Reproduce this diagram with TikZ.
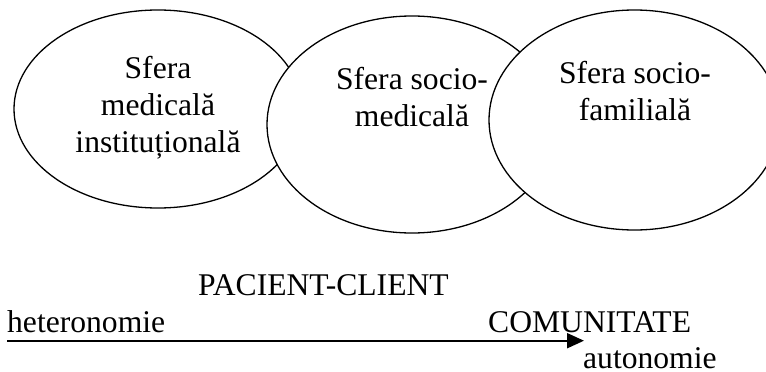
\documentclass[tikz,border=0pt]{standalone}
\usepackage{fontspec}
\setmainfont{Liberation Serif}
\usetikzlibrary{shapes.geometric,arrows.meta}
\begin{document}
\begin{tikzpicture}[x=1pt,y=-1pt,
  sphere/.style={draw=black,fill=white,ellipse,line width=1.3pt,inner sep=0pt},
  lbl/.style={inner sep=0pt,align=center,font=\fontsize{31.6}{37}\selectfont},
  txt/.style={inner sep=0pt,font=\fontsize{31.6}{37}\selectfont}]
\useasboundingbox (0,0) rectangle (766,372);
% ellipses
\node[sphere,minimum width=288pt,minimum height=198pt] (e1) at (158,109) {};
\node[sphere,minimum width=290pt,minimum height=217pt] (e2) at (412,124.5) {};
\node[sphere,minimum width=291pt,minimum height=220pt] (e3) at (634.5,120) {};
% ellipse labels
\node[lbl] (t1) at (158,107.5) {Sfera\\medicală\\instituțională};
\node[lbl] (t2) at (412,97) {Sfera socio-\\medicală};
\node[lbl] (t3) at (635,91.5) {Sfera socio-\\familială};
% bottom texts
\node[txt,anchor=base west] (pc) at (198,295) {PACIENT-CLIENT};
\node[txt,anchor=base west] (het) at (7,332) {heteronomie};
\node[txt,anchor=base west] (com) at (488,332) {COMUNITATE};
\node[txt,anchor=base west] (aut) at (583,368) {autonomie};
% arrow
\coordinate (as) at (7,340.7);
\coordinate (ae) at (584,340.7);
\draw[line width=2pt,-{Triangle[length=17pt,width=15pt]}] (as) -- (ae);
\end{tikzpicture}
\end{document}
